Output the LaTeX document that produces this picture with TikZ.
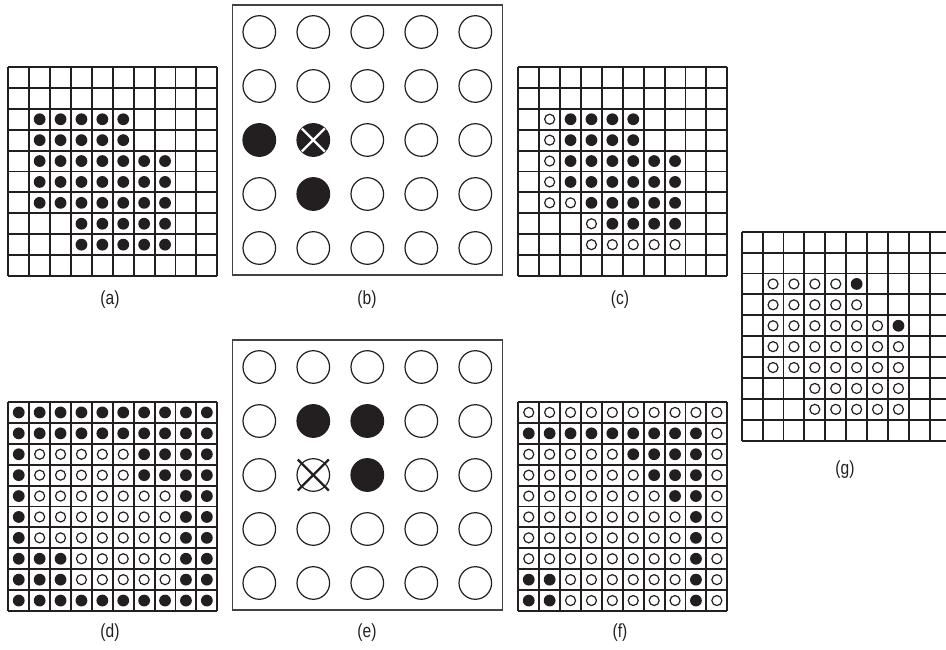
\documentclass[tikz,border=0pt]{standalone}
\usepackage{fontspec}
\setmainfont{Liberation Sans}
\definecolor{ink}{HTML}{231F20}
\tikzset{
  gridline/.style={draw=ink, line width=1.9pt},
  dotfill/.style={fill=ink},
  hollowdot/.style={draw=ink, line width=1.2pt, fill=white},
  bigbox/.style={draw=ink!85, line width=1.4pt},
  bigcircle/.style={draw=ink, line width=1.2pt},
  bigfill/.style={fill=ink},
  caption/.style={inner sep=0pt, text=ink, font=\fontsize{19}{21}\selectfont},
}
\newcommand\cs{20.9}
\newcommand\mydotgrid[3]{%
  \foreach \k in {0,...,10}{%
    \draw[gridline] (#1+\k*\cs,#2) -- (#1+\k*\cs,#2+10*\cs);
    \draw[gridline] (#1,#2+\k*\cs) -- (#1+10*\cs,#2+\k*\cs);
  }%
  \foreach \row [count=\r from 0] in {#3}{%
    \foreach \c [count=\k from 0] in \row {%
      \if F\c \fill[dotfill] (#1+\k*\cs+0.5*\cs, #2+\r*\cs+0.5*\cs) circle (5.9pt);\fi
      \if O\c \draw[hollowdot] (#1+\k*\cs+0.5*\cs, #2+\r*\cs+0.5*\cs) circle (5pt);\fi
    }%
  }%
}
\newcommand\mycirclebox[2]{% x0 y0
  \draw[bigbox] (#1,#2) rectangle (#1+270,#2+270);
  \foreach \i in {0,...,4}{\foreach \j in {0,...,4}{%
    \draw[bigcircle] (#1+27+54*\i,#2+27+54*\j) circle (16.3pt);
  }}%
}
\begin{document}
\begin{tikzpicture}[x=1pt,y=-1pt]
\useasboundingbox (0,0) rectangle (946,650);
\clip (0,0) rectangle (946,650);
% (a)
\mydotgrid{8.3}{67}{%
{.,.,.,.,.,.,.,.,.,.},%
{.,.,.,.,.,.,.,.,.,.},%
{.,F,F,F,F,F,.,.,.,.},%
{.,F,F,F,F,F,.,.,.,.},%
{.,F,F,F,F,F,F,F,.,.},%
{.,F,F,F,F,F,F,F,.,.},%
{.,F,F,F,F,F,F,F,.,.},%
{.,.,.,F,F,F,F,F,.,.},%
{.,.,.,F,F,F,F,F,.,.},%
{.,.,.,.,.,.,.,.,.,.}}
% (c)
\mydotgrid{518.3}{67}{%
{.,.,.,.,.,.,.,.,.,.},%
{.,.,.,.,.,.,.,.,.,.},%
{.,O,F,F,F,F,.,.,.,.},%
{.,O,F,F,F,F,.,.,.,.},%
{.,O,F,F,F,F,F,F,.,.},%
{.,O,F,F,F,F,F,F,.,.},%
{.,O,O,F,F,F,F,F,.,.},%
{.,.,.,O,F,F,F,F,.,.},%
{.,.,.,O,O,O,O,O,.,.},%
{.,.,.,.,.,.,.,.,.,.}}
% (d)
\mydotgrid{8.3}{402}{%
{F,F,F,F,F,F,F,F,F,F},%
{F,F,F,F,F,F,F,F,F,F},%
{F,O,O,O,O,O,F,F,F,F},%
{F,O,O,O,O,O,F,F,F,F},%
{F,O,O,O,O,O,O,O,F,F},%
{F,O,O,O,O,O,O,O,F,F},%
{F,O,O,O,O,O,O,O,F,F},%
{F,F,F,O,O,O,O,O,F,F},%
{F,F,F,O,O,O,O,O,F,F},%
{F,F,F,F,F,F,F,F,F,F}}
% (f)
\mydotgrid{518.3}{402}{%
{O,O,O,O,O,O,O,O,O,O},%
{F,F,F,F,F,F,F,F,F,O},%
{O,O,O,O,O,F,F,F,F,O},%
{O,O,O,O,O,O,F,F,F,O},%
{O,O,O,O,O,O,O,F,F,O},%
{O,O,O,O,O,O,O,O,F,O},%
{O,O,O,O,O,O,O,O,F,O},%
{O,O,O,O,O,O,O,O,F,O},%
{F,F,O,O,O,O,O,O,F,O},%
{F,F,O,O,O,O,O,O,F,O}}
% (g)
\mydotgrid{741.7}{231.7}{%
{.,.,.,.,.,.,.,.,.,.},%
{.,.,.,.,.,.,.,.,.,.},%
{.,O,O,O,O,F,.,.,.,.},%
{.,O,O,O,O,O,.,.,.,.},%
{.,O,O,O,O,O,O,F,.,.},%
{.,O,O,O,O,O,O,O,.,.},%
{.,O,O,O,O,O,O,O,.,.},%
{.,.,.,O,O,O,O,O,.,.},%
{.,.,.,O,O,O,O,O,.,.},%
{.,.,.,.,.,.,.,.,.,.}}
% (b)
\mycirclebox{232.3}{5}
\fill[bigfill] (259.3,140) circle (16.3pt);
\fill[bigfill] (313.3,194) circle (16.3pt);
\fill[bigfill] (313.3,140) circle (16.3pt);
\begin{scope}
  \clip (313.3,140) circle (16.3pt);
  \draw[white, line width=2.2pt] (295.3,122) -- (331.3,158);
  \draw[white, line width=2.2pt] (295.3,158) -- (331.3,122);
\end{scope}
% (e)
\mycirclebox{232.3}{340}
\fill[bigfill] (313.3,421) circle (16.3pt);
\fill[bigfill] (367.3,421) circle (16.3pt);
\fill[bigfill] (367.3,475) circle (16.3pt);
\draw[ink, line width=2.3pt] (297.8,459.5) -- (328.8,490.5);
\draw[ink, line width=2.3pt] (297.8,490.5) -- (328.8,459.5);
% captions
\node[caption] (la) at (110,300) {\scalebox{0.82}[1]{(a)}};
\node[caption] (lb) at (367,300) {\scalebox{0.82}[1]{(b)}};
\node[caption] (lc) at (620,300) {\scalebox{0.82}[1]{(c)}};
\node[caption] (ld) at (110,633) {\scalebox{0.82}[1]{(d)}};
\node[caption] (le) at (367,633) {\scalebox{0.82}[1]{(e)}};
\node[caption] (lf) at (620,633) {\scalebox{0.82}[1]{(f)}};
\node[caption] (lg) at (845,470) {\scalebox{0.82}[1]{(g)}};
\end{tikzpicture}
\end{document}
